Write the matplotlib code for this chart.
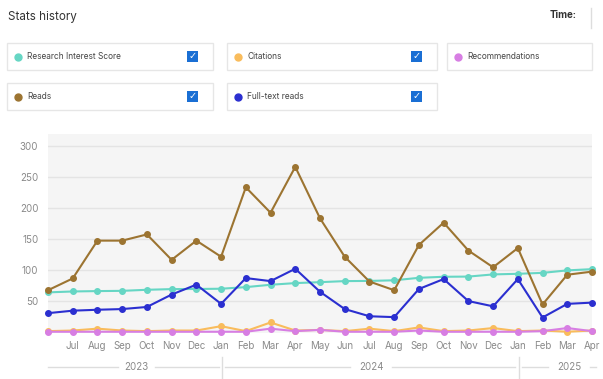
import matplotlib
matplotlib.use("Agg")
import matplotlib.pyplot as plt
from matplotlib.patches import Rectangle
from matplotlib.lines import Line2D

plt.rcParams["font.family"] = ["Inter", "DejaVu Sans"]

months = ["Jun", "Jul", "Aug", "Sep", "Oct", "Nov", "Dec",
          "Jan", "Feb", "Mar", "Apr", "May", "Jun", "Jul", "Aug", "Sep", "Oct", "Nov", "Dec",
          "Jan", "Feb", "Mar", "Apr"]
years = ["2023", "2024", "2025"]

ris = [63.5, 65, 65.6, 66, 67.7, 68.8, 69, 69.4, 72, 75.8, 78.5, 80, 81.7, 82, 83,
       87, 88.7, 89, 92.5, 93.5, 95, 99, 101]
citations = [1, 2, 5, 2, 1, 2, 2, 9, 1, 15, 2, 3, 1, 5, 1, 7, 1, 2, 6, 1, 2, 0, 2]
recommendations = [0, 0, 0, 0, 0, 0, 0, 0, 0, 5, 1, 3, 0, 0, 0, 2, 0, 0, 0, 0, 1, 6, 1]
reads = [67, 86, 147, 147, 157, 116, 147, 121, 233, 192, 266, 183, 121, 81, 67,
         140, 176, 131, 104, 135, 44, 92, 97]
fulltext = [30, 34, 35.5, 36.6, 40, 60, 76, 45, 86.6, 81.7, 101.6, 64.5, 36.6, 25, 23.6,
            69, 85, 49.5, 41, 85, 23, 45, 47]

series = [
    ("Research Interest Score", ris, "#66d6c4"),
    ("Citations", citations, "#f9bc5c"),
    ("Recommendations", recommendations, "#d77ee3"),
    ("Reads", reads, "#9c7431"),
    ("Full-text reads", fulltext, "#2b2fd0"),
]

W, H = 603, 379
fig = plt.figure(figsize=(W / 100, H / 100), dpi=100)


def fx(x):
    return x / W


def fy(y):
    return 1 - y / H


# plot area
ax = fig.add_axes([fx(48), fy(333), fx(592) - fx(48), fy(134) - fy(333)])
ax.set_facecolor("#f5f5f5")
x = list(range(len(months)))
for i in [0, 3, 4, 1, 2]:
    name, vals, col = series[i]
    ax.plot(x, vals, color=col, lw=1.5, marker="o", ms=4, clip_on=False, zorder=3)
ax.set_xlim(0, 22)
ax.set_ylim(-2, 319)
ax.set_yticks([50, 100, 150, 200, 250, 300])
ax.set_xticks(x[1:])
ax.set_xticklabels(months[1:])
ax.grid(axis="y", color="#e4e4e4", lw=1)
ax.set_axisbelow(True)
ax.tick_params(length=0, labelsize=7, labelcolor="#8a8a8a", pad=6)
ax.tick_params(axis="y", pad=7)
for s in ax.spines.values():
    s.set_visible(False)

# year band
band_y = 367
gray = "#dddddd"


def hline(x0, x1, y):
    fig.add_artist(Line2D([fx(x0), fx(x1)], [fy(y), fy(y)], color=gray, lw=1,
                         transform=fig.transFigure))


def vline(xx, y0, y1):
    fig.add_artist(Line2D([fx(xx), fx(xx)], [fy(y0), fy(y1)], color=gray, lw=1,
                         transform=fig.transFigure))


hline(48, 118, band_y)
hline(155, 219, band_y)
vline(222, 357, 378)
hline(225, 350, band_y)
hline(392, 515, band_y)
vline(519, 357, 378)
hline(522, 548, band_y)
hline(590, 596, band_y)
for yr, xx in zip(years, [136, 371, 569]):
    fig.text(fx(xx), fy(band_y), yr, ha="center", va="center", fontsize=7, color="#8a8a8a")

# header
fig.text(fx(8), fy(17), "Stats history", ha="left", va="center", fontsize=8.4, color="#333333")
fig.text(fx(576), fy(15), "Time:", ha="right", va="center", fontsize=7,
         color="#333333", fontweight="bold")
vline(591, 8, 28)

# legend boxes: (left, top, right)
boxes = [(7, 43, 213), (227, 43, 437), (447, 43, 592), (7, 83, 213), (227, 83, 437)]
checked = [True, True, False, True, True]
for (name, vals, col), (bx, by, br), chk in zip(series, boxes, checked):
    bh = 27
    fig.patches.append(Rectangle((fx(bx), fy(by + bh)), (br - bx) / W, bh / H,
                                 transform=fig.transFigure, facecolor="white",
                                 edgecolor="#e6e6e6", lw=1))
    cy = by + 13.5
    fig.add_artist(Line2D([fx(bx + 11)], [fy(cy)], marker="o", ms=5,
                          color=col, transform=fig.transFigure))
    fig.text(fx(bx + 20), fy(cy), name, ha="left", va="center",
             fontsize=6.0, color="#444444")
    if chk:
        cx = br - 26
        fig.patches.append(Rectangle((fx(cx), fy(cy + 5.5)), 11 / W, 11 / H,
                                     transform=fig.transFigure, facecolor="#1a6fd4",
                                     edgecolor="none"))
        fig.text(fx(cx + 5.5), fy(cy), "\u2713", ha="center", va="center",
                 fontsize=7, color="white", fontweight="bold", family="DejaVu Sans")

fig.savefig("out.png", dpi=100)
